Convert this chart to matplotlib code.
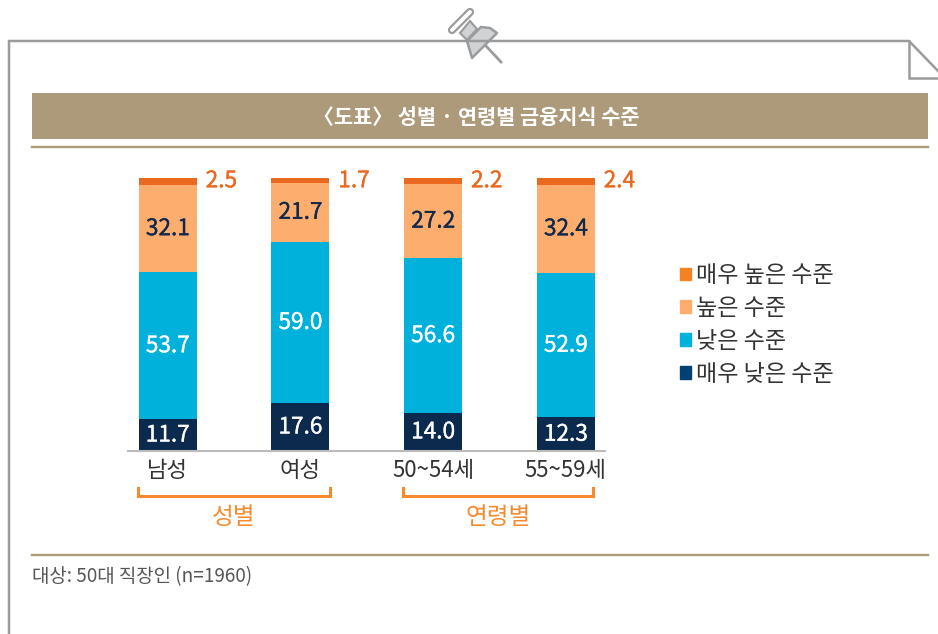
import matplotlib
matplotlib.use('Agg')
import matplotlib.pyplot as plt
import matplotlib.patheffects as pe
from matplotlib.patches import Patch, Polygon, Rectangle

plt.rcParams['font.family'] = ['Noto Sans CJK KR', 'DejaVu Sans']

categories = ['남성', '여성', '50~54세', '55~59세']
very_low = [11.7, 17.6, 14.0, 12.3]
low = [53.7, 59.0, 56.6, 52.9]
high = [32.1, 21.7, 27.2, 32.4]
very_high = [2.5, 1.7, 2.2, 2.4]
series_names = ['매우 높은 수준', '높은 수준', '낮은 수준', '매우 낮은 수준']
title = '〈도표〉 성별 · 연령별 금융지식 수준'
note = '대상: 50대 직장인 (n=1960)'
group_names = ['성별', '연령별']

W, H = 938, 634
GRAY = '#9a9b9d'
TAN = '#ac9a7b'
ORANGE = '#f58a2e'

fig = plt.figure(figsize=(W / 100, H / 100), dpi=100)

# page decoration in pixel coords
bg = fig.add_axes([0, 0, 1, 1])
bg.set_xlim(0, W)
bg.set_ylim(H, 0)
bg.axis('off')
bg.plot([9, 9, 909, 940], [634, 41, 41, 73], color=GRAY, lw=1.8, solid_joinstyle='miter')
bg.plot([909, 909, 938], [41, 78, 78], color=GRAY, lw=1.8, solid_joinstyle='miter')
bg.add_patch(Rectangle((32, 93), 896, 46, color=TAN, lw=0))
bg.plot([32, 928], [147, 147], color=TAN, lw=1.7)
bg.plot([32, 928], [555, 555], color=TAN, lw=1.7)
bg.text(476, 117, title, color='white', fontsize=15, fontweight='bold', ha='center', va='center')
bg.text(32, 577, note, color='#555555', fontsize=13.6, ha='left', va='center')

# pin
bg.add_patch(Polygon([(447, 27), (462, 26), (482, 38), (502, 52), (482, 62), (458, 45)], color='white', lw=0))
bg.plot([486, 501], [46, 62], color=GRAY, lw=2)
bg.add_patch(Polygon([(460, 33), (470, 21), (477, 29), (467, 40)], fc='#d1d2d4', ec=GRAY, lw=1.5))
bg.add_patch(Polygon([(467, 41), (472, 58), (497, 33), (490, 28), (481, 27)], fc='#d1d2d4', ec=GRAY, lw=1.8, joinstyle='round'))
bg.plot([452, 470], [30, 12], color=GRAY, lw=6, solid_capstyle='round')
bg.plot([452, 470], [30, 12], color='white', lw=2.8, solid_capstyle='round')

# group brackets
for (x0, x1), name in zip([(138, 330), (403, 593)], group_names):
    bg.plot([x0, x0, x1, x1], [488, 496, 496, 488], color=ORANGE, lw=2.2, solid_joinstyle='miter')
    bg.text((x0 + x1) / 2, 518, name, color=ORANGE, fontsize=17, ha='center', va='center')

# bars
ax = fig.add_axes([128 / W, 1 - 451 / H, (605 - 128) / W, (451 - 178) / H])
ax.patch.set_alpha(0)
x = list(range(len(categories)))
colors = ['#0b2a4e', '#00b1dc', '#fdae6f', '#e8691f']
text_colors = ['white', 'white', '#12294b']
bottom = [0.0] * 4
for vals, c in zip([very_low, low, high, very_high], colors):
    ax.bar(x, vals, width=58 / 132.67, bottom=bottom, color=c, lw=0)
    bottom = [b + v for b, v in zip(bottom, vals)]


def heavy(color):
    return [pe.withStroke(linewidth=0.25, foreground=color)]


bottom = [0.0] * 4
for vals, tc in zip([very_low, low, high], text_colors):
    for i, v in enumerate(vals):
        ax.text(i, bottom[i] + v / 2, f'{v:.1f}', color=tc, fontsize=16.3, ha='center', va='center',
                path_effects=heavy(tc))
    bottom = [b + v for b, v in zip(bottom, vals)]
for i, v in enumerate(very_high):
    ax.text(i + 0.285, 99, f'{v:.1f}', color='#e8691f', fontsize=16.3, ha='left', va='center',
            path_effects=heavy('#e8691f'))

ax.set_xlim(-0.3, 3.295)
ax.set_ylim(0, 100)
ax.set_xticks(x)
ax.set_xticklabels(categories, fontsize=16, color='#333333')
ax.tick_params(axis='x', length=0, pad=6)
ax.set_yticks([])
for s in ['top', 'left', 'right']:
    ax.spines[s].set_visible(False)
ax.spines['bottom'].set_color('#bbbbbb')
ax.spines['bottom'].set_linewidth(1.5)

legend_colors = ['#f58220', '#fdae6f', '#00b1dc', '#004073']
handles = [Patch(color=c, label=n) for c, n in zip(legend_colors, series_names)]
fig.legend(handles=handles, loc='center left', bbox_to_anchor=(680 / W, 1 - 325 / H), frameon=False,
           fontsize=16.6, labelcolor='#333333', handlelength=0.48, handleheight=0.48,
           handletextpad=0.22, labelspacing=0.43, borderpad=0, borderaxespad=0)

fig.savefig('out.png', dpi=100)
